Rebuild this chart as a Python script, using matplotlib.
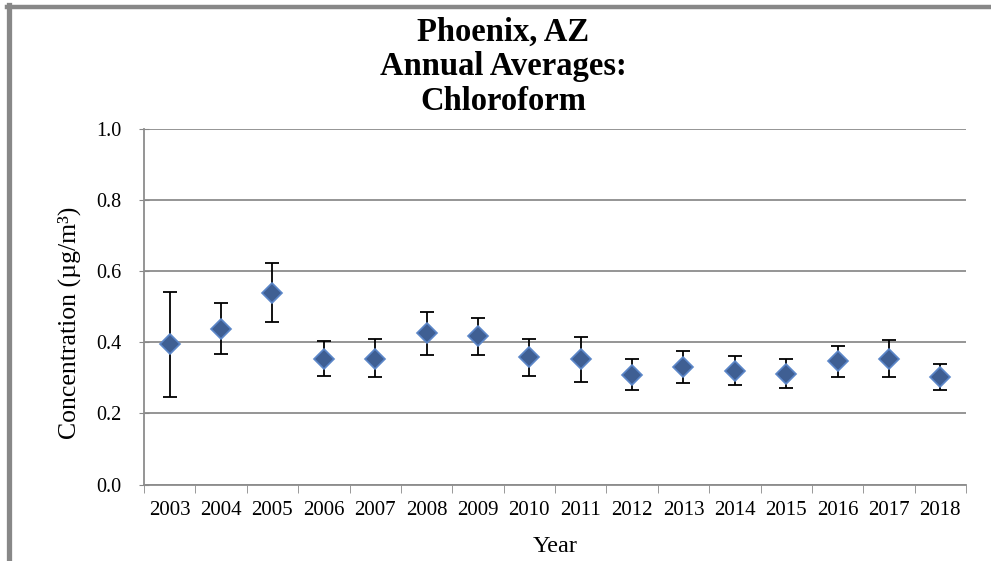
import numpy as np
import matplotlib.pyplot as plt
from matplotlib.lines import Line2D

years = ['2003', '2004', '2005', '2006', '2007', '2008', '2009', '2010',
         '2011', '2012', '2013', '2014', '2015', '2016', '2017', '2018']
means = [0.394, 0.437, 0.539, 0.354, 0.354, 0.425, 0.417, 0.358,
         0.352, 0.309, 0.330, 0.320, 0.311, 0.348, 0.353, 0.302]
upper = [0.542, 0.509, 0.623, 0.404, 0.408, 0.486, 0.469, 0.408,
         0.414, 0.352, 0.374, 0.360, 0.353, 0.390, 0.407, 0.339]
lower = [0.247, 0.366, 0.458, 0.304, 0.302, 0.363, 0.365, 0.306,
         0.288, 0.266, 0.285, 0.280, 0.270, 0.303, 0.301, 0.265]
title_lines = ['Phoenix, AZ', 'Annual Averages:', 'Chloroform']

plt.rcParams['font.family'] = ['Liberation Serif', 'DejaVu Serif']

W, H = 991, 561
fig = plt.figure(figsize=(W / 100, H / 100), dpi=100)

# page border (grey frame cut from the report)
fig.add_artist(Line2D([8.5 / W, 8.5 / W], [0, 1 - 5 / H], color='#888888', lw=3.8))
fig.add_artist(Line2D([6.5 / W, 1], [1 - 7.2 / H, 1 - 7.2 / H], color='#888888', lw=3.2))

ax = fig.add_axes([144 / W, (H - 484.6) / H, (966 - 144) / W, (484.6 - 128.6) / H])

x = np.arange(len(years))
m = np.array(means)
yerr = [m - np.array(lower), np.array(upper) - m]

ax.errorbar(x, m, yerr=yerr, fmt='none', ecolor='black', elinewidth=1.3,
            capsize=5, capthick=1.3, zorder=2)
ax.plot(x, m, 'D', ms=10, markerfacecolor='#3f5f93', markeredgecolor='#5b86c8',
        markeredgewidth=1.2, zorder=3)

ax.set_xlim(-0.5, len(years) - 0.5)
ax.set_ylim(0, 1.0)
ax.set_yticks(np.arange(0, 1.01, 0.2))
ax.set_yticklabels(['%.1f' % v for v in np.arange(0, 1.01, 0.2)], fontsize=14.5)
ax.set_xticks(x)
ax.set_xticklabels(years, fontsize=15)
ax.set_xticks(np.arange(-0.5, len(years), 1), minor=True)
ax.tick_params(axis='x', which='major', length=0, pad=12)
ax.tick_params(axis='x', which='minor', length=6, color='#888888', direction='out')
ax.tick_params(axis='y', length=7, color='#888888', direction='inout', pad=13)

ax.grid(axis='y', color='#8c8c8c', lw=1.3)
ax.set_axisbelow(True)
for s in ['top', 'right']:
    ax.spines[s].set_visible(False)
for s in ['left', 'bottom']:
    ax.spines[s].set_color('#8c8c8c')
    ax.spines[s].set_linewidth(1.3)

ax.set_ylabel('Concentration (µg/m³)', fontsize=18.5)
ax.yaxis.set_label_coords(-0.077, 0.454)
ax.set_xlabel('Year', fontsize=17.5, labelpad=11)

for i, line in enumerate(title_lines):
    fig.text(503 / W, 1 - (32 + 34.5 * i) / H, line, ha='center', va='center',
             fontsize=23.5, fontweight='bold')

fig.savefig('out.png', dpi=100)
